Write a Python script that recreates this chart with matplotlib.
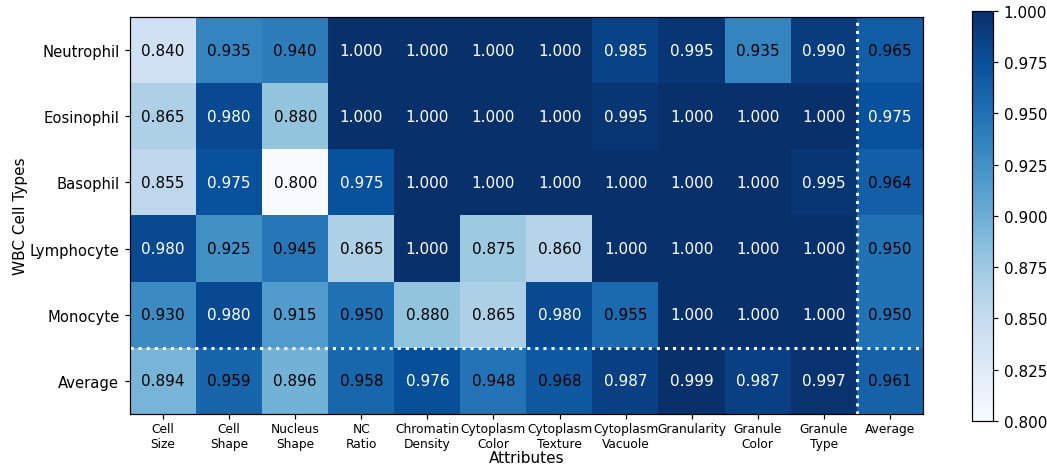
import numpy as np
import matplotlib
matplotlib.use('Agg')
import matplotlib.pyplot as plt

cell_types = ['Neutrophil', 'Eosinophil', 'Basophil', 'Lymphocyte', 'Monocyte', 'Average']
attributes = ['Cell\nSize', 'Cell\nShape', 'Nucleus\nShape', 'NC\nRatio', 'Chromatin\nDensity',
              'Cytoplasm\nColor', 'Cytoplasm\nTexture', 'Cytoplasm\nVacuole', 'Granularity',
              'Granule\nColor', 'Granule\nType', 'Average']

neutrophil = [0.840, 0.935, 0.940, 1.000, 1.000, 1.000, 1.000, 0.985, 0.995, 0.935, 0.990, 0.965]
eosinophil = [0.865, 0.980, 0.880, 1.000, 1.000, 1.000, 1.000, 0.995, 1.000, 1.000, 1.000, 0.975]
basophil = [0.855, 0.975, 0.800, 0.975, 1.000, 1.000, 1.000, 1.000, 1.000, 1.000, 0.995, 0.964]
lymphocyte = [0.980, 0.925, 0.945, 0.865, 1.000, 0.875, 0.860, 1.000, 1.000, 1.000, 1.000, 0.950]
monocyte = [0.930, 0.980, 0.915, 0.950, 0.880, 0.865, 0.980, 0.955, 1.000, 1.000, 1.000, 0.950]
average = [0.894, 0.959, 0.896, 0.958, 0.976, 0.948, 0.968, 0.987, 0.999, 0.987, 0.997, 0.961]

acc = np.array([neutrophil, eosinophil, basophil, lymphocyte, monocyte, average])

fig = plt.figure(figsize=(1047 / 110, 467 / 110), dpi=110)
ax = fig.add_axes([0.1242, 0.1113, 0.7574, 0.8501])
cax = fig.add_axes([0.9284, 0.0964, 0.0201, 0.878])

im = ax.imshow(acc, cmap='Blues', vmin=0.8, vmax=1.0, aspect='auto')

for i in range(acc.shape[0]):
    for j in range(acc.shape[1]):
        v = acc[i, j]
        ax.text(j, i, f'{v:.3f}', ha='center', va='center', fontsize=10,
                color='white' if v > 0.97 else 'black')

# separadores de los promedios
ax.axvline(10.5, color='white', linestyle=':', linewidth=2)
ax.axhline(4.5, color='white', linestyle=':', linewidth=2)

ax.set_xticks(range(len(attributes)))
ax.set_xticklabels(attributes, fontsize=8)
ax.tick_params(axis='x', pad=2)
ax.set_yticks(range(len(cell_types)))
ax.set_yticklabels(cell_types, fontsize=9.7)
ax.set_xlabel('Attributes', fontsize=10, labelpad=0)
ax.set_ylabel('WBC Cell Types', fontsize=10, labelpad=1)

cb = fig.colorbar(im, cax=cax)
cb.set_ticks([0.8, 0.825, 0.85, 0.875, 0.9, 0.925, 0.95, 0.975, 1.0])
cb.ax.set_yticklabels(['0.800', '0.825', '0.850', '0.875', '0.900', '0.925', '0.950', '0.975', '1.000'])
cb.ax.tick_params(labelsize=10)

plt.savefig('out.png', dpi=110)
